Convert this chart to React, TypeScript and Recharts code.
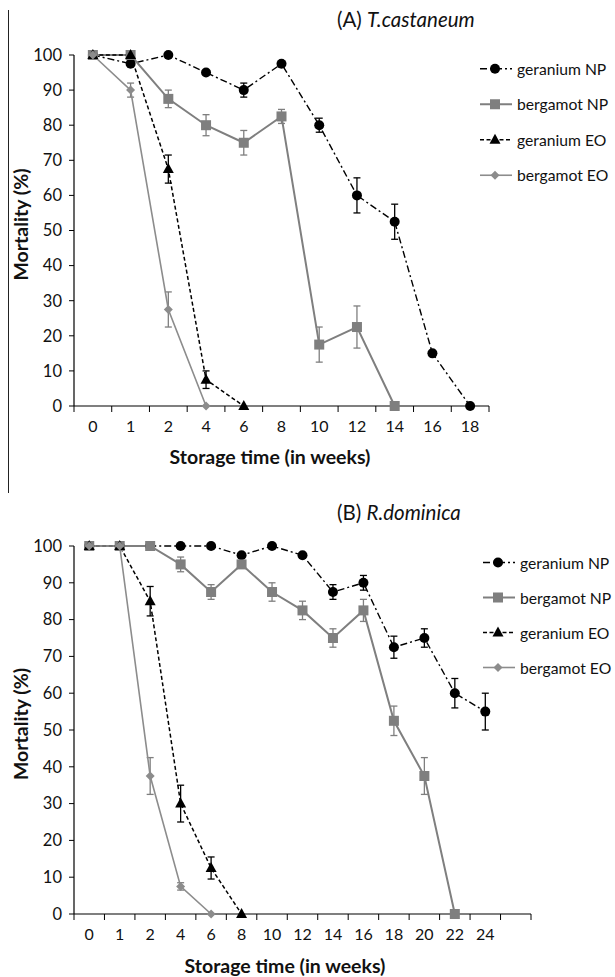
import React from "react";
import { LineChart, Line, XAxis, YAxis, ErrorBar } from "recharts";

const FONT = "Lato, 'Open Sans', sans-serif";

// (A) T.castaneum
const weeksA = ["0", "1", "2", "4", "6", "8", "10", "12", "14", "16", "18"];
const geraniumNpA = [100, 97.5, 100, 95, 90, 97.5, 80, 60, 52.5, 15, 0];
const geraniumNpErrA = [0, 0, 0, 0, 2, 0, 2, 5, 5, 0, 0];
const bergamotNpA = [100, 100, 87.5, 80, 75, 82.5, 17.5, 22.5, 0];
const bergamotNpErrA = [0, 0, 2.5, 3, 3.5, 2, 5, 6, 0];
const geraniumEoA = [100, 100, 67.5, 7.5, 0];
const geraniumEoErrA = [0, 0, 4, 2.5, 0];
const bergamotEoA = [100, 90, 27.5, 0];
const bergamotEoErrA = [0, 2, 5, 0];

// (B) R.dominica  (last slot is empty, as in the original)
const weeksB = ["0", "1", "2", "4", "6", "8", "10", "12", "14", "16", "18", "20", "22", "24", ""];
const geraniumNpB = [100, 100, 100, 100, 100, 97.5, 100, 97.5, 87.5, 90, 72.5, 75, 60, 55];
const geraniumNpErrB = [0, 0, 0, 0, 0, 0, 0, 0, 2, 2, 3, 2.5, 4, 5];
const bergamotNpB = [100, 100, 100, 95, 87.5, 95, 87.5, 82.5, 75, 82.5, 52.5, 37.5, 0];
const bergamotNpErrB = [0, 0, 0, 2, 2, 0, 2.5, 2.5, 2.5, 3, 4, 5, 0];
const geraniumEoB = [100, 100, 85, 30, 12.5, 0];
const geraniumEoErrB = [0, 0, 4, 5, 3, 0];
const bergamotEoB = [100, 100, 37.5, 7.5, 0];
const bergamotEoErrB = [0, 0, 5, 1, 0];

const yTicks = [0, 10, 20, 30, 40, 50, 60, 70, 80, 90, 100];
const legendNames = ["geranium NP", "bergamot NP", "geranium EO", "bergamot EO"];

type Shape = "circle" | "square" | "triangle" | "diamond";

const SERIES = [
  { key: "gNP", name: legendNames[0], color: "#000", dash: "7 3 2 3", width: 1.4, shape: "circle" as Shape },
  { key: "bNP", name: legendNames[1], color: "#7f7f7f", dash: undefined, width: 2, shape: "square" as Shape },
  { key: "gEO", name: legendNames[2], color: "#000", dash: "4 2.5", width: 1.5, shape: "triangle" as Shape },
  { key: "bEO", name: legendNames[3], color: "#8c8c8c", dash: undefined, width: 1.6, shape: "diamond" as Shape },
];

function buildRows(weeks: string[], cols: Record<string, (number | null)[]>) {
  return weeks.map((w, i) => {
    const row: any = { week: w };
    Object.keys(cols).forEach((k) => {
      const v = cols[k][i];
      row[k] = v === undefined ? null : v;
    });
    return row;
  });
}

const dataA = buildRows(weeksA, {
  gNP: geraniumNpA, gNPe: geraniumNpErrA,
  bNP: bergamotNpA, bNPe: bergamotNpErrA,
  gEO: geraniumEoA, gEOe: geraniumEoErrA,
  bEO: bergamotEoA, bEOe: bergamotEoErrA,
});

const dataB = buildRows(weeksB, {
  gNP: geraniumNpB, gNPe: geraniumNpErrB,
  bNP: bergamotNpB, bNPe: bergamotNpErrB,
  gEO: geraniumEoB, gEOe: geraniumEoErrB,
  bEO: bergamotEoB, bEOe: bergamotEoErrB,
});

function Marker({ cx, cy, shape, color }: { cx: number; cy: number; shape: Shape; color: string }) {
  if (shape === "circle") return <circle cx={cx} cy={cy} r={5} fill={color} />;
  if (shape === "square") return <rect x={cx - 5} y={cy - 5} width={10} height={10} fill={color} />;
  if (shape === "triangle")
    return <path d={`M${cx},${cy - 6}L${cx + 5.5},${cy + 4}L${cx - 5.5},${cy + 4}Z`} fill={color} />;
  return <path d={`M${cx},${cy - 4.5}L${cx + 4.5},${cy}L${cx},${cy + 4.5}L${cx - 4.5},${cy}Z`} fill={color} />;
}

const TICK_SIZE = 6;
const TICK_MARGIN = 9;

// category labels centred in their slot, tick marks on the slot edges (Excel style)
function SlotTick(props: any) {
  const { x, y, payload, index, visibleTicksCount, width } = props;
  const half = width / visibleTicksCount / 2;
  const y0 = y - TICK_SIZE - TICK_MARGIN;
  return (
    <g>
      <line x1={x - half} x2={x - half} y1={y0} y2={y0 + TICK_SIZE} stroke="#000" />
      {index === visibleTicksCount - 1 && (
        <line x1={x + half} x2={x + half} y1={y0} y2={y0 + TICK_SIZE} stroke="#000" />
      )}
      <text x={x} y={y} dy="0.71em" textAnchor="middle" fontSize={16} fill="#111" fontFamily={FONT}>
        {payload.value}
      </text>
    </g>
  );
}

function Panel({ data, width, height, top, right, xAxisHeight, xLabelX, xLabelDy, yLabelDy }: any) {
  return (
    <LineChart width={width} height={height} data={data} margin={{ top, right, left: 0, bottom: 0 }}>
      <XAxis
        dataKey="week"
        scale="band"
        interval={0}
        height={xAxisHeight}
        axisLine={{ stroke: "#000", strokeWidth: 1.2 }}
        tickLine={false}
        tickSize={TICK_SIZE}
        tickMargin={TICK_MARGIN}
        tick={<SlotTick />}
        label={{
          content: (p: any) => (
            <text
              x={xLabelX}
              y={p.viewBox.y + xLabelDy}
              textAnchor="middle"
              dominantBaseline="central"
              fontSize={19.5}
              fontWeight="bold"
              fontFamily={FONT}
              fill="#111"
            >
              Storage time (in weeks)
            </text>
          ),
        }}
      />
      <YAxis
        width={74}
        domain={[0, 100]}
        ticks={yTicks}
        interval={0}
        axisLine={{ stroke: "#000", strokeWidth: 1.2 }}
        tickLine={{ stroke: "#000" }}
        tickSize={5}
        tickMargin={7}
        tick={{ fontSize: 16.5, fill: "#111", fontFamily: FONT }}
        label={{
          content: (p: any) => {
            const cx = 20;
            const cy = p.viewBox.y + p.viewBox.height / 2 + yLabelDy;
            return (
              <text
                x={cx}
                y={cy}
                transform={`rotate(-90 ${cx} ${cy})`}
                textAnchor="middle"
                dominantBaseline="central"
                fontSize={19.5}
                fontWeight="bold"
                fontFamily={FONT}
                fill="#111"
              >
                Mortality (%)
              </text>
            );
          },
        }}
      />
      {SERIES.map((s) => (
        <Line
          key={s.key}
          dataKey={s.key}
          name={s.name}
          stroke={s.color}
          strokeWidth={s.width}
          strokeDasharray={s.dash}
          isAnimationActive={false}
          connectNulls={false}
          dot={(p: any) =>
            p.value == null || p.cy == null ? (
              <g key={`${s.key}-${p.index}`} />
            ) : (
              <Marker key={`${s.key}-${p.index}`} cx={p.cx} cy={p.cy} shape={s.shape} color={s.color} />
            )
          }
          activeDot={false}
        >
          <ErrorBar dataKey={`${s.key}e`} direction="y" width={3.5} stroke={s.color === "#000" ? "#000" : "#7f7f7f"} strokeWidth={1.3} />
        </Line>
      ))}
    </LineChart>
  );
}

function LegendBox({ left, top, gap }: { left: number; top: number; gap: number }) {
  return (
    <svg width={140} height={gap * 4} style={{ position: "absolute", left, top }}>
      {SERIES.map((s, i) => {
        const y = gap / 2 + i * gap;
        return (
          <g key={s.key}>
            <line x1={2} x2={34} y1={y} y2={y} stroke={s.color} strokeWidth={s.width} strokeDasharray={s.dash} />
            <Marker cx={17} cy={y} shape={s.shape} color={s.color} />
            <text x={39} y={y} dominantBaseline="central" fontSize={15.7} fontFamily={FONT} fill="#111">
              {s.name}
            </text>
          </g>
        );
      })}
    </svg>
  );
}

function Title({ left, top, code, species }: any) {
  return (
    <div style={{ position: "absolute", left, top, fontFamily: FONT, fontSize: 20.5, lineHeight: "24px", color: "#111", whiteSpace: "nowrap" }}>
      {code} <i>{species}</i>
    </div>
  );
}

export default function App() {
  return (
    <div style={{ position: "absolute", left: 0, top: 0, width: 615, height: 977, background: "#fff", overflow: "hidden" }}>
      <div style={{ position: "absolute", left: 8, top: 10, width: 1, height: 483, background: "#222" }} />

      <div style={{ position: "absolute", left: 0, top: 0 }}>
        <Panel data={dataA} width={615} height={495} top={55} right={126} xAxisHeight={89} xLabelX={270} xLabelDy={50} yLabelDy={-6} />
      </div>
      <Title left={337} top={7} code="(A)" species="T.castaneum" />
      <LegendBox left={478} top={51} gap={35.5} />

      <div style={{ position: "absolute", left: 0, top: 490 }}>
        <Panel data={dataB} width={615} height={487} top={56} right={84} xAxisHeight={63} xLabelX={285} xLabelDy={51} yLabelDy={-6} />
      </div>
      <Title left={337} top={500} code="(B)" species="R.dominica" />
      <LegendBox left={481} top={545} gap={35} />
    </div>
  );
}
